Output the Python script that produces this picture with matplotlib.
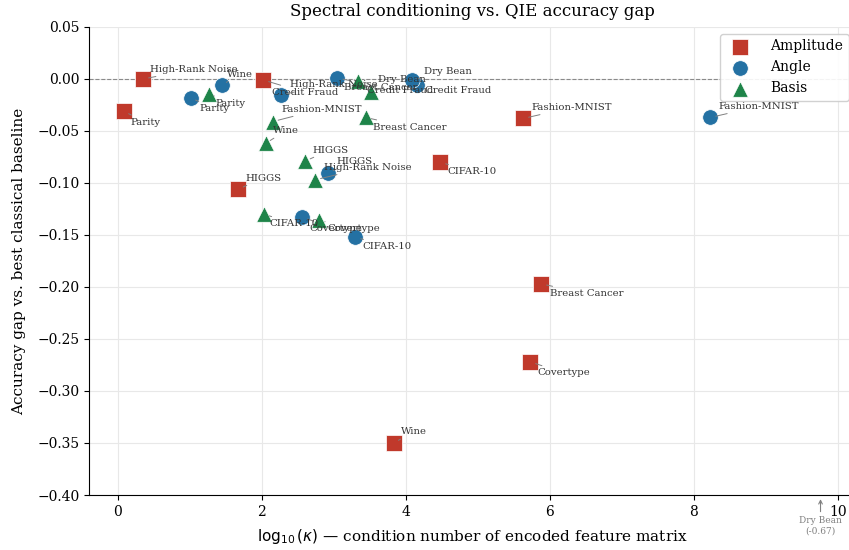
import matplotlib
matplotlib.use('Agg')
import matplotlib.pyplot as plt

plt.rcParams['font.family'] = 'serif'
plt.rcParams['font.serif'] = ['DejaVu Serif']

datasets = ["Parity", "High-Rank Noise", "Wine", "HIGGS", "Fashion-MNIST",
            "CIFAR-10", "Breast Cancer", "Covertype", "Credit Fraud", "Dry Bean"]

# log10(kappa) and accuracy gap, per encoding (same dataset order)
amp_logk = [0.08, 0.35, 3.83, 1.67, 5.63, 4.48, 5.88, 5.73, 2.02, 9.76]
amp_gap = [-0.031, 0.000, -0.350, -0.106, -0.038, -0.080, -0.197, -0.272, -0.001, -0.67]

ang_logk = [1.01, 2.27, 1.44, 2.92, 8.23, 3.30, 3.05, 2.56, 4.15, 4.08]
ang_gap = [-0.018, -0.015, -0.006, -0.090, -0.037, -0.152, 0.001, -0.133, -0.006, -0.001]

bas_logk = [1.26, 2.74, 2.05, 2.60, 2.15, 2.03, 3.44, 2.80, 3.34, 3.51]
bas_gap = [-0.014, -0.097, -0.062, -0.079, -0.041, -0.130, -0.037, -0.136, -0.002, -0.013]

# label offsets in points (layout only)
amp_off = [(5, -8), (5, 7), (5, 8), (5, 8), (6, 8), (5, -7), (6, -7), (5, -8), (6, -9), (0, 0)]
ang_off = [(6, -8), (6, 7), (4, 8), (6, 8), (6, 8), (5, -7), (5, -7), (5, -8), (6, -4), (9, 6)]
bas_off = [(5, -7), (6, 9), (5, 9), (5, 8), (6, 9), (4, -7), (5, -7), (6, -6), (6, -7), (5, 9)]

YMIN, YMAX = -0.40, 0.05

fig, ax = plt.subplots(figsize=(8.49, 5.5), dpi=100)
fig.subplots_adjust(left=0.105, right=1.008, bottom=0.1, top=0.951)

encodings = [
    ("Amplitude", amp_logk, amp_gap, amp_off, 's', '#c0392b'),
    ("Angle", ang_logk, ang_gap, ang_off, 'o', '#2471a3'),
    ("Basis", bas_logk, bas_gap, bas_off, '^', '#1e8449'),
]

for name, xs, ys, offs, mk, col in encodings:
    vis = [(x, y, d, o) for x, y, d, o in zip(xs, ys, datasets, offs) if y >= YMIN]
    ax.scatter([v[0] for v in vis], [v[1] for v in vis], marker=mk, s=125,
               color=col, edgecolors='white', linewidths=0.5, label=name, zorder=3)
    for x, y, d, o in vis:
        ax.annotate(d, xy=(x, y), xytext=o, textcoords='offset points',
                    ha='left', va='center', fontsize=7.3, color='#333333',
                    arrowprops=dict(arrowstyle='-', color='grey', lw=0.7,
                                    shrinkA=0, shrinkB=4), zorder=4)
    # points that fall below the visible range
    for x, y, d in zip(xs, ys, datasets):
        if y < YMIN:
            ax.annotate(f"{d}\n({y:.2f})", xy=(x, YMIN), xytext=(0, -15),
                        textcoords='offset points', ha='center', va='top',
                        fontsize=6.5, color='grey', annotation_clip=False,
                        arrowprops=dict(arrowstyle='->', color='grey', lw=0.8,
                                        shrinkA=1, shrinkB=3))

ax.axhline(0, ls='--', color='grey', lw=0.8, alpha=0.9, zorder=1)

ax.set_xlim(-0.4, 10.25)
ax.set_ylim(YMIN, YMAX)
ax.set_yticks([0.05, 0.0, -0.05, -0.10, -0.15, -0.20, -0.25, -0.30, -0.35, -0.40])
ax.grid(True, color='#e8e8e8', lw=0.8, zorder=0)
ax.set_axisbelow(True)
for s in ['top', 'right']:
    ax.spines[s].set_visible(False)
ax.tick_params(labelsize=10)

ax.set_xlabel(r"$\log_{10}(\kappa)$ — condition number of encoded feature matrix",
              fontsize=11, labelpad=6)
ax.set_ylabel("Accuracy gap vs. best classical baseline", fontsize=11, labelpad=8)
ax.set_title("Spectral conditioning vs. QIE accuracy gap", fontsize=12, pad=8)
ax.legend(loc='upper right', fontsize=10, framealpha=0.9, handletextpad=1.2)

plt.savefig('out.png', dpi=100)
